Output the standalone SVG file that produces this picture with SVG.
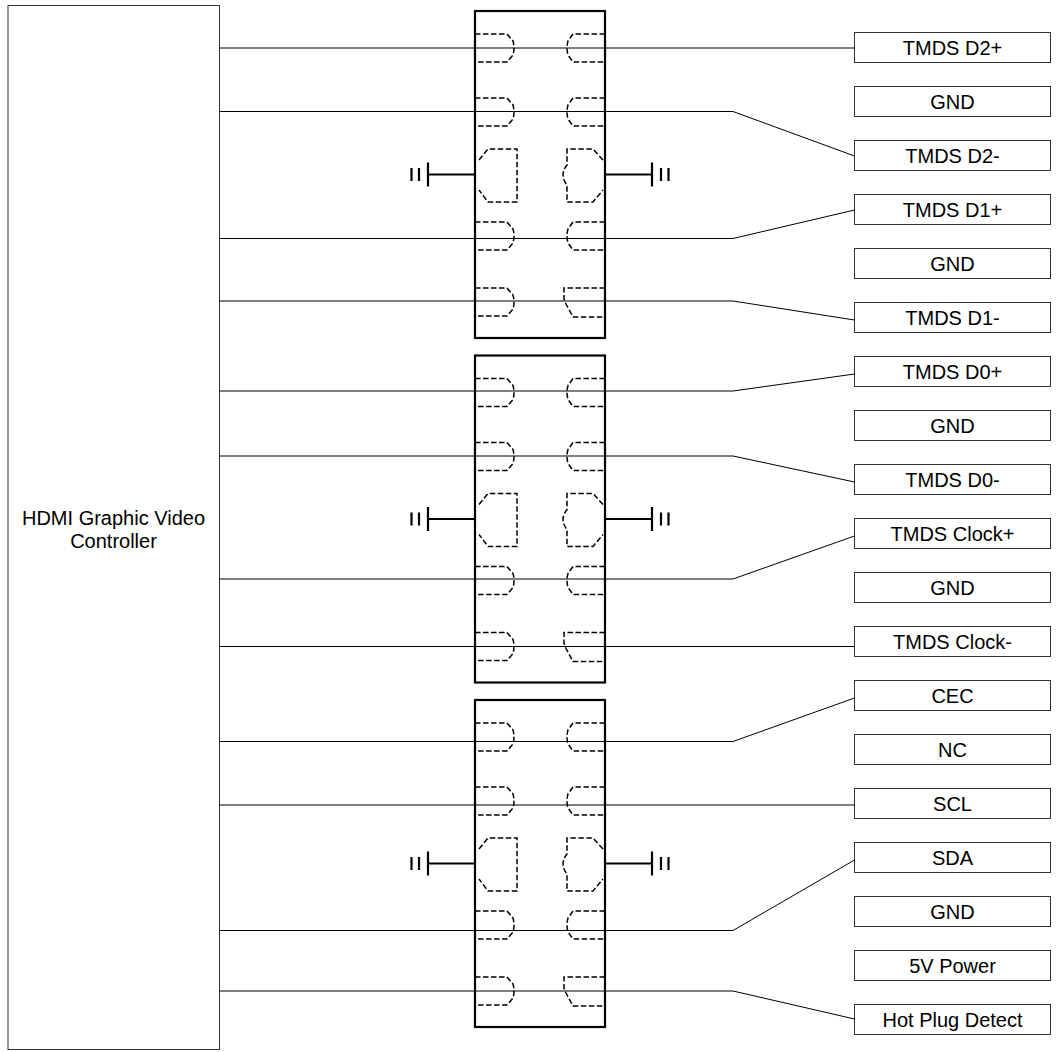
<svg xmlns="http://www.w3.org/2000/svg" xmlns:xlink="http://www.w3.org/1999/xlink" width="1064" height="1052" viewBox="0 0 1064 1052">
<style>
  text { font-family: "Liberation Sans", Arial, sans-serif; font-size: 20px; fill: #000; text-anchor: middle; }
  .box { fill: #fff; stroke: #333; stroke-width: 1; }
  .chip { fill: #fff; stroke: #000; stroke-width: 2.2; }
  .dash { fill: none; stroke: #000; stroke-width: 1.5; stroke-dasharray: 5.5 2.5; }
  .gnd { fill: none; stroke: #000; stroke-width: 2.2; }
  .wire { fill: none; stroke: #000; stroke-width: 1; }
</style>
<defs>
  <g id="pinL">
    <path class="dash" d="M475,0 H507 L513,7 Q515,14 513,21 L507,28 H475"/>
  </g>
  <g id="pinR">
    <path class="dash" d="M605,0 H573 L568,7 Q566,14 568,21 L573,28 H605"/>
  </g>
  <g id="pinR2">
    <path class="dash" d="M605,0 H564 V11 L566,16 L573,29 H605"/>
  </g>
  <g id="chipBody">
    <rect class="chip" x="475" y="0" width="130" height="327"/>
    <use xlink:href="#pinL" y="23"/>
    <use xlink:href="#pinL" y="87"/>
    <use xlink:href="#pinL" y="211"/>
    <use xlink:href="#pinL" y="277"/>
    <use xlink:href="#pinR" y="23"/>
    <use xlink:href="#pinR" y="87"/>
    <use xlink:href="#pinR" y="211"/>
    <use xlink:href="#pinR2" y="277"/>
    <path class="dash" d="M479,149 L488,138 H517 V191 H488 L479,179"/>
    <path class="dash" d="M603,149 L593,138 H567 V154 Q559,164 567,174 V191 H593 L603,179"/>
    <path class="gnd" d="M475,163.5 H428 M428,151.5 V175.5 M419,157 V170 M411.5,157 V170"/>
    <path class="gnd" d="M605,163.5 H652 M652,151.5 V175.5 M661,157 V170 M668.5,157 V170"/>
  </g>
</defs>

<g id="controller">
  <rect class="box" x="8" y="5.5" width="211.5" height="1044"/>
  <text x="113.5" y="525">HDMI Graphic Video</text>
  <text x="113.5" y="548">Controller</text>
</g>

<g id="chip1"><use xlink:href="#chipBody" y="11"/></g>
<g id="chip2"><use xlink:href="#chipBody" y="355.5"/></g>
<g id="chip3"><use xlink:href="#chipBody" y="700"/></g>

<g id="labels">
  <g id="l0"><rect class="box" x="854.5" y="32.5" width="196" height="30"/><text x="952.5" y="55">TMDS D2+</text></g>
  <g id="l1"><rect class="box" x="854.5" y="86.5" width="196" height="30"/><text x="952.5" y="109">GND</text></g>
  <g id="l2"><rect class="box" x="854.5" y="140.5" width="196" height="30"/><text x="952.5" y="163">TMDS D2-</text></g>
  <g id="l3"><rect class="box" x="854.5" y="194.5" width="196" height="30"/><text x="952.5" y="217">TMDS D1+</text></g>
  <g id="l4"><rect class="box" x="854.5" y="248.5" width="196" height="30"/><text x="952.5" y="271">GND</text></g>
  <g id="l5"><rect class="box" x="854.5" y="302.5" width="196" height="30"/><text x="952.5" y="325">TMDS D1-</text></g>
  <g id="l6"><rect class="box" x="854.5" y="356.5" width="196" height="30"/><text x="952.5" y="379">TMDS D0+</text></g>
  <g id="l7"><rect class="box" x="854.5" y="410.5" width="196" height="30"/><text x="952.5" y="433">GND</text></g>
  <g id="l8"><rect class="box" x="854.5" y="464.5" width="196" height="30"/><text x="952.5" y="487">TMDS D0-</text></g>
  <g id="l9"><rect class="box" x="854.5" y="518.5" width="196" height="30"/><text x="952.5" y="541">TMDS Clock+</text></g>
  <g id="l10"><rect class="box" x="854.5" y="572.5" width="196" height="30"/><text x="952.5" y="595">GND</text></g>
  <g id="l11"><rect class="box" x="854.5" y="626.5" width="196" height="30"/><text x="952.5" y="649">TMDS Clock-</text></g>
  <g id="l12"><rect class="box" x="854.5" y="680.5" width="196" height="30"/><text x="952.5" y="703">CEC</text></g>
  <g id="l13"><rect class="box" x="854.5" y="734.5" width="196" height="30"/><text x="952.5" y="757">NC</text></g>
  <g id="l14"><rect class="box" x="854.5" y="788.5" width="196" height="30"/><text x="952.5" y="811">SCL</text></g>
  <g id="l15"><rect class="box" x="854.5" y="842.5" width="196" height="30"/><text x="952.5" y="865">SDA</text></g>
  <g id="l16"><rect class="box" x="854.5" y="896.5" width="196" height="30"/><text x="952.5" y="919">GND</text></g>
  <g id="l17"><rect class="box" x="854.5" y="950.5" width="196" height="30"/><text x="952.5" y="973">5V Power</text></g>
  <g id="l18"><rect class="box" x="854.5" y="1004.5" width="196" height="30"/><text x="952.5" y="1027">Hot Plug Detect</text></g>
</g>

<g id="connectors">
  <path class="wire" d="M219.5,48 H854.5"/>
  <path class="wire" d="M219.5,111.5 H733 L854.5,156"/>
  <path class="wire" d="M219.5,238.5 H733 L854.5,210"/>
  <path class="wire" d="M219.5,301 H733 L854.5,320"/>
  <path class="wire" d="M219.5,391 H733 L854.5,374"/>
  <path class="wire" d="M219.5,456 H733 L854.5,482"/>
  <path class="wire" d="M219.5,579 H733 L854.5,536"/>
  <path class="wire" d="M219.5,646.5 H854.5"/>
  <path class="wire" d="M219.5,741.5 H733 L854.5,698"/>
  <path class="wire" d="M219.5,805 H854.5"/>
  <path class="wire" d="M219.5,930.5 H733 L854.5,860"/>
  <path class="wire" d="M219.5,991 H733 L854.5,1019"/>
</g>
</svg>
